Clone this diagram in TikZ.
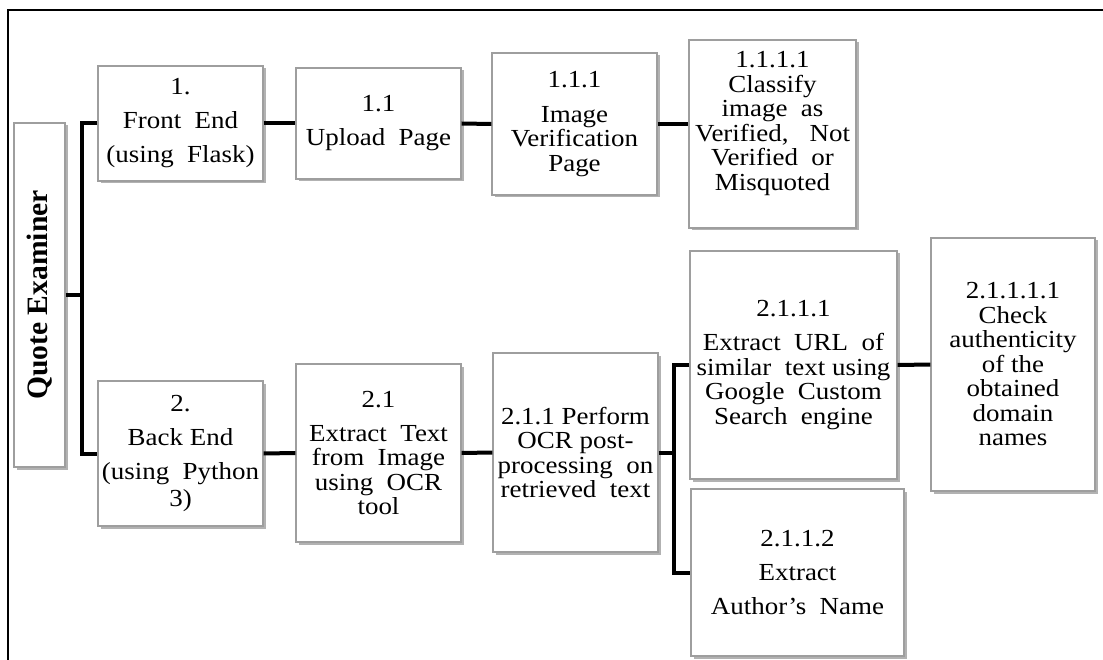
\documentclass[tikz,border=0pt]{standalone}
\usepackage{fontspec}
\setmainfont{Liberation Serif}[FakeStretch=1.1]
\newfontfamily\titlefont{Liberation Serif}
\usetikzlibrary{shadows}
\tikzset{
  box/.style={draw=black!38, line width=1.2pt, fill=white, inner sep=0pt,
    align=center, font=\fontsize{24.5}{24.5}\selectfont,
    drop shadow={shadow xshift=2.5pt, shadow yshift=-2.5pt, opacity=0.3, fill=black}},
  size/.style 2 args={minimum width=#1pt, minimum height=#2pt},
  conn/.style={line width=4pt, black},
  frameline/.style={line width=2pt, black}
}
\begin{document}
\begin{tikzpicture}[x=1pt, y=-1pt]
\useasboundingbox (0,0) rectangle (1103,660);

% outer frame (open at the right and bottom)
\draw[frameline] (8,660) -- (8,10) -- (1103,10);

% root, set sideways
\node[box, size={344}{51}, font=\titlefont\bfseries\fontsize{29.6}{30}\selectfont, rotate=90]
  (qe) at (39.5,295) {Quote Examiner};

% front end branch
\node[box, size={165}{115}] (b1) at (180.5,123.5)
  {1.\\[9.5pt]Front~~End\\[9.5pt](using~~Flask)};
\node[box, size={165}{111}] (b11) at (378.5,123.5)
  {1.1\\[9.5pt]Upload~~Page};
\node[box, size={165}{142}] (b111) at (574.5,124)
  {1.1.1\\[10pt]Image\\Verification\\Page};
\node[box, size={167}{188}, text depth=26pt] (b1111) at (772.5,134)
  {1.1.1.1\\Classify\\image~~as\\\makebox[155pt][s]{Verified,\ Not}\\Verified~~or\\Misquoted};

% back end branch
\node[box, size={165}{145}] (b2) at (180.5,453.5)
  {2.\\[9.5pt]Back End\\[9pt](using~~Python\\[2.5pt]3)};
\node[box, size={165}{178}] (b21) at (378.5,453)
  {2.1\\[9.5pt]Extract~~Text\\from~~Image\\using~~OCR\\tool};
\node[box, size={165}{199}] (b211) at (575.5,452.5)
  {2.1.1 Perform\\OCR post-\\processing~~on\\retrieved~~text};
\node[box, size={207}{228}] (b2111) at (793.5,365)
  {2.1.1.1\\[9.5pt]Extract~~URL~~of\\similar~~text using\\Google~~Custom\\Search~~engine};
\node[box, size={213}{167}] (b2112) at (797.5,572.5)
  {2.1.1.2\\[9.5pt]Extract\\[9.5pt]Author’s~~Name};
\node[box, size={164}{253}] (b21111) at (1013,364.5)
  {2.1.1.1.1\\Check\\authenticity\\of the\\obtained\\domain\\names};

% trunk and bracket positions
\coordinate (trunk) at (82,0);
\coordinate (fork) at (674,0);

% connectors
\draw[conn] (qe.south) -- (qe.south -| trunk);
\draw[conn] (b1.west) -- (b1.west -| trunk) -- (b2.west -| trunk) -- (b2.west);
\draw[conn] (b1.east) -- (b11.west);
\draw[conn] (b11.east) -- (b111.west);
\draw[conn] (b111.east) -- (b111.east -| b1111.west);
\draw[conn] (b2.east) -- (b21.west);
\draw[conn] (b21.east) -- (b211.west);
\draw[conn] (b211.east) -- (b211.east -| fork);
\draw[conn] (b2111.west) -- (b2111.west -| fork) -- (b2112.west -| fork) -- (b2112.west);
\draw[conn] (b2111.east) -- (b21111.west);
\end{tikzpicture}
\end{document}
